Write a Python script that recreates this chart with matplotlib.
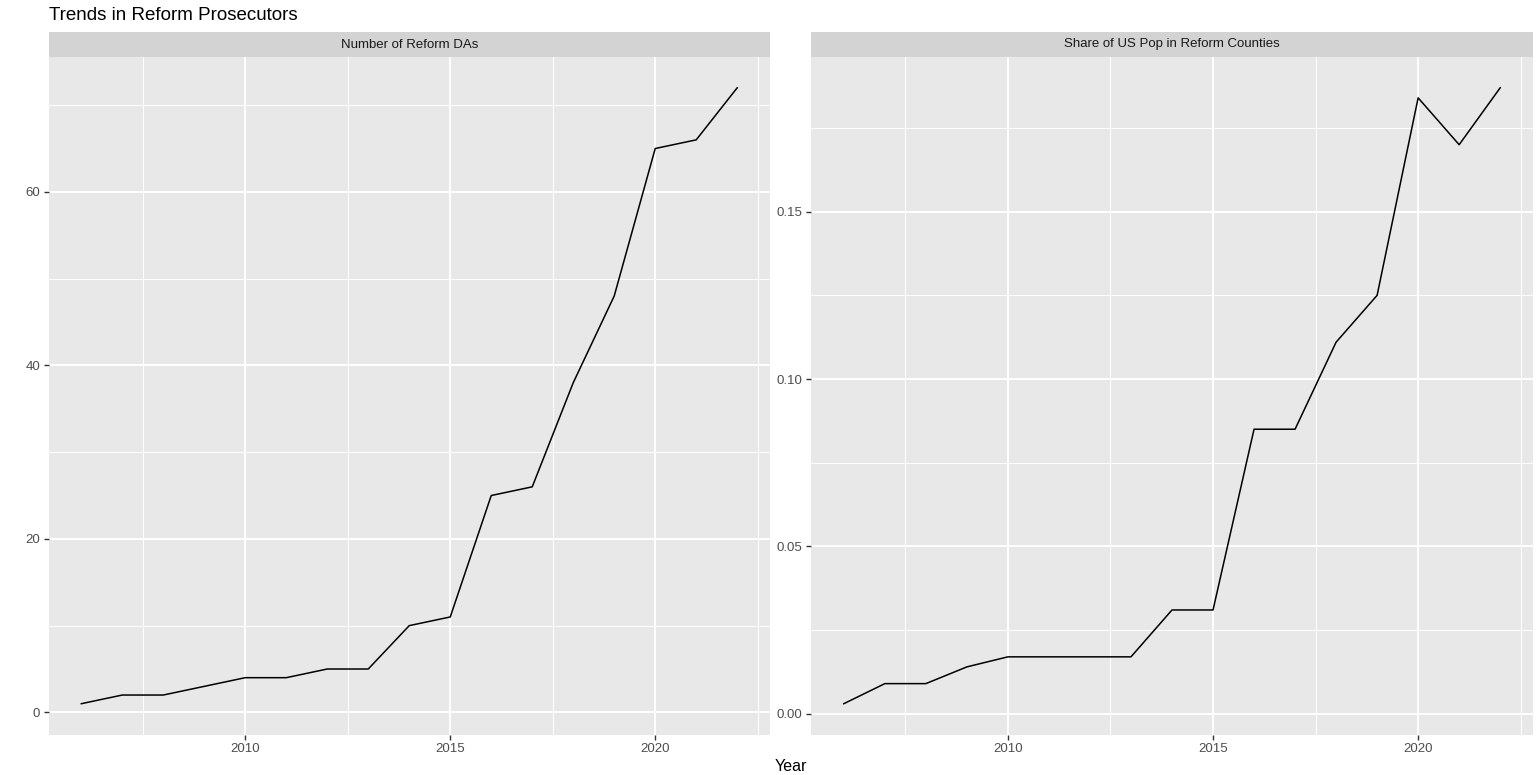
import numpy as np
import matplotlib
matplotlib.use("Agg")
import matplotlib.pyplot as plt

plt.rcParams['font.family'] = ['Liberation Sans', 'DejaVu Sans']

years = np.arange(2006, 2023)
reform_das = [1, 2, 2, 3, 4, 4, 5, 5, 10, 11, 25, 26, 38, 48, 65, 66, 72]
pop_share = [0.003, 0.009, 0.009, 0.014, 0.017, 0.017, 0.017, 0.017, 0.031,
             0.031, 0.085, 0.085, 0.111, 0.125, 0.184, 0.170, 0.187]

panel_titles = ["Number of Reform DAs", "Share of US Pop in Reform Counties"]
x_ticks = [2010, 2015, 2020]
x_minor = [2007.5, 2012.5, 2017.5, 2022.5]
y_ticks_left = [0, 20, 40, 60]
y_minor_left = [10, 30, 50, 70]
y_ticks_right = [0.00, 0.05, 0.10, 0.15]
y_minor_right = [0.025, 0.075, 0.125, 0.175]

W, H = 1539, 775
fig = plt.figure(figsize=(W / 100, H / 100), dpi=100)
fig.patch.set_facecolor("white")


def px_axes(x0, x1, y0, y1):
    # pixel box (top-left origin) -> figure fraction
    return fig.add_axes([x0 / W, 1 - y1 / H, (x1 - x0) / W, (y1 - y0) / H])


def expand(lo, hi, frac=0.05):
    d = (hi - lo) * frac
    return lo - d, hi + d


def draw_panel(x0, x1, values, title, yt, ymin, fmt):
    ax = px_axes(x0, x1, 57, 734.5)
    ax.set_facecolor("#E8E8E8")
    for v in x_minor:
        ax.axvline(v, color="white", lw=0.7, zorder=1)
    for v in ymin:
        ax.axhline(v, color="white", lw=0.7, zorder=1)
    for v in x_ticks:
        ax.axvline(v, color="white", lw=1.4, zorder=1)
    for v in yt:
        ax.axhline(v, color="white", lw=1.4, zorder=1)
    ax.plot(years, values, color="black", lw=1.1, zorder=3)
    ax.set_xlim(*expand(years.min(), years.max()))
    ax.set_ylim(*expand(min(values), max(values)))
    ax.set_xticks(x_ticks)
    ax.set_yticks(yt)
    ax.set_yticklabels([fmt.format(v) for v in yt])
    ax.tick_params(colors="#333333", labelcolor="#4D4D4D", labelsize=9.5,
                   length=3.5, width=1.0, pad=2.5)
    for s in ax.spines.values():
        s.set_visible(False)

    strip = px_axes(x0, x1, 32, 57)
    strip.set_facecolor("#D3D3D3")
    strip.set_xticks([])
    strip.set_yticks([])
    for s in strip.spines.values():
        s.set_visible(False)
    strip.text(0.5, 0.5, title, ha="center", va="center", fontsize=9.5,
               color="#1A1A1A", transform=strip.transAxes)
    return ax


draw_panel(48.5, 770, reform_das, panel_titles[0], y_ticks_left, y_minor_left, "{:d}")
draw_panel(811, 1533, pop_share, panel_titles[1], y_ticks_right, y_minor_right, "{:.2f}")

fig.text(49 / W, 1 - 20 / H, "Trends in Reform Prosecutors", fontsize=13.5,
         color="black", ha="left", va="baseline")
fig.text(791 / W, 1 - 771 / H, "Year", fontsize=11.5, color="black",
         ha="center", va="baseline")

fig.savefig("out.png", dpi=100)
